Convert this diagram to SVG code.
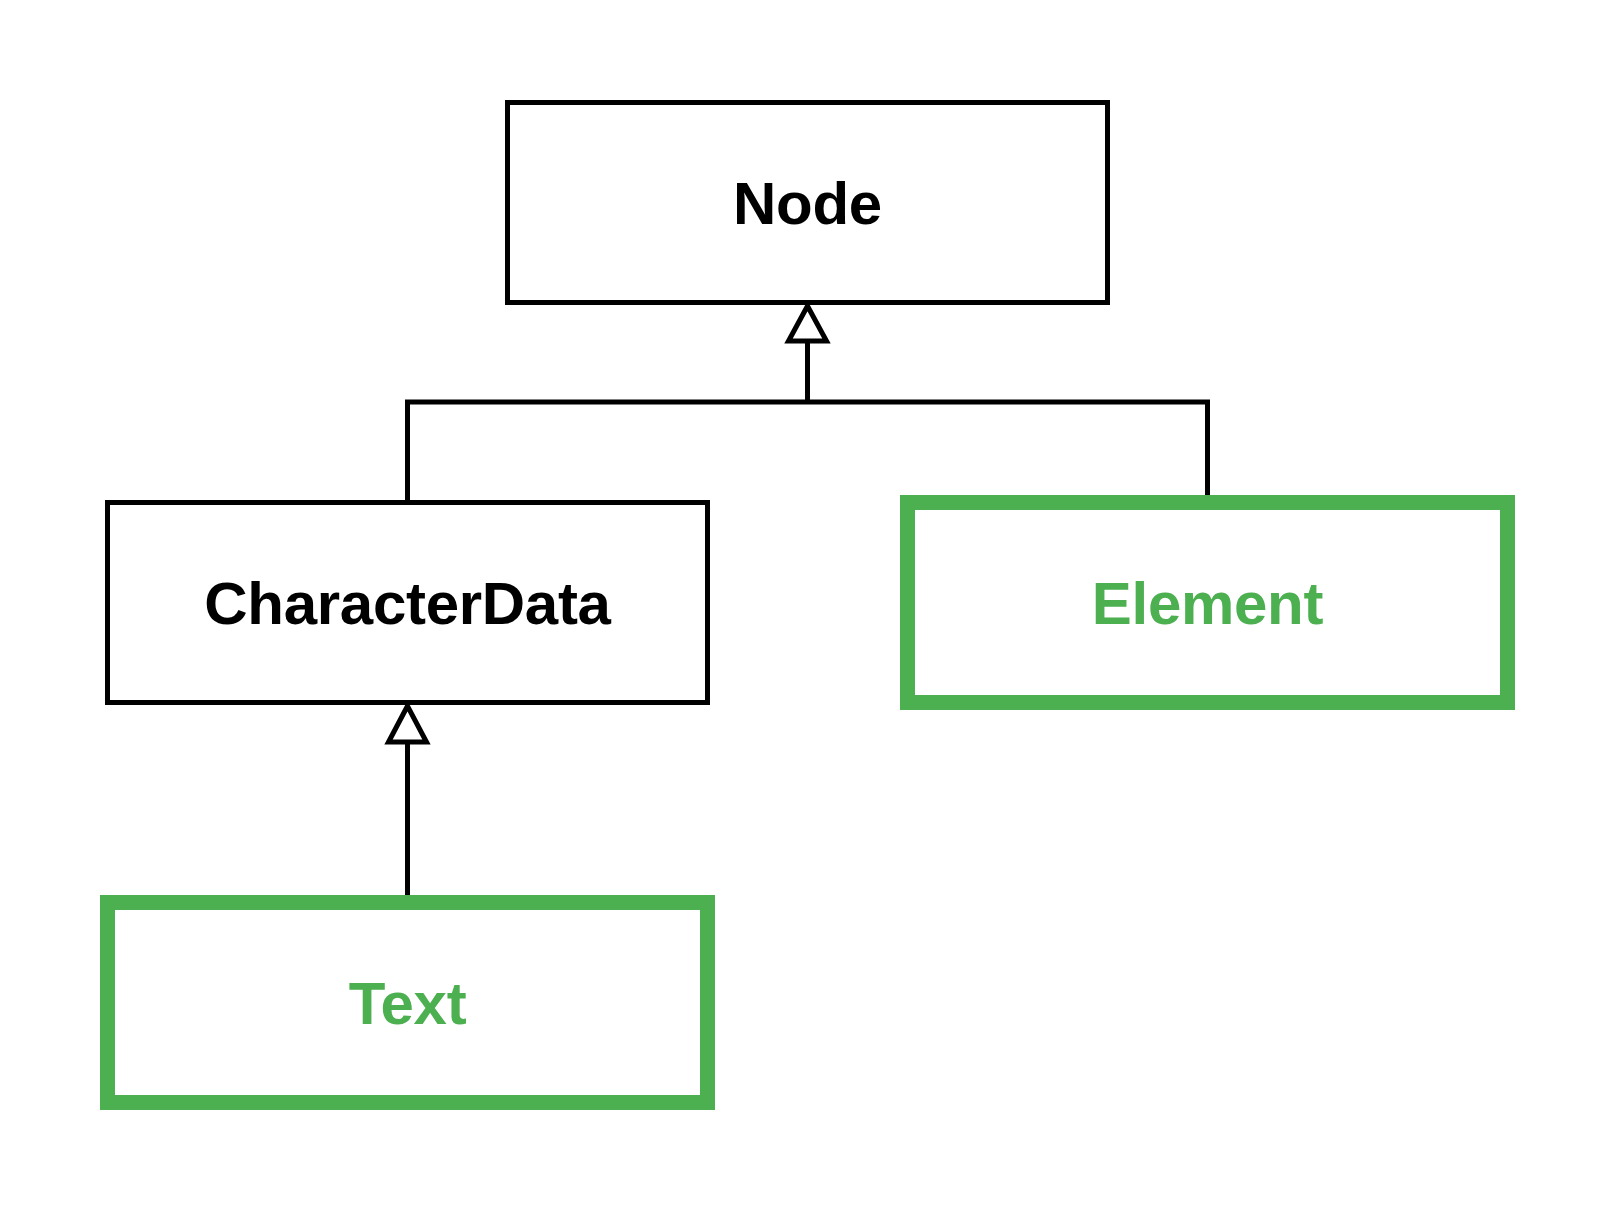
<svg xmlns="http://www.w3.org/2000/svg" width="1615" height="1210" viewBox="0 0 1615 1210">
<style>
.box{fill:#ffffff;stroke:#000000;stroke-width:5}
.gbox{fill:#ffffff;stroke:#4CAF50;stroke-width:15}
.lbl{font-family:"Liberation Sans",Arial,Helvetica,sans-serif;font-weight:bold;font-size:60px;letter-spacing:-0.3px;text-anchor:middle;fill:#000000}
.glbl{fill:#4CAF50}
.edge{fill:none;stroke:#000000;stroke-width:5}
.tri{fill:#ffffff;stroke:#000000;stroke-width:5;stroke-linejoin:miter}
</style>
<rect width="1615" height="1210" fill="#ffffff"/>
<g id="connectors">
<path class="edge" d="M407.5 500 V402 H1207.5 V495"/>
<path class="edge" d="M807.5 402 V341"/>
<polygon class="tri" points="807.5,306 788.5,341 826.5,341"/>
<path class="edge" d="M407.5 895 V742"/>
<polygon class="tri" points="407.5,706 388.5,742 426.5,742"/>
</g>
<g id="node-Node">
<rect class="box" x="507.5" y="102.5" width="600" height="200"/>
<text class="lbl" x="807.5" y="224">Node</text>
</g>
<g id="node-CharacterData">
<rect class="box" x="107.5" y="502.5" width="600" height="200"/>
<text class="lbl" x="407.5" y="624">CharacterData</text>
</g>
<g id="node-Element">
<rect class="gbox" x="907.5" y="502.5" width="600" height="200"/>
<text class="lbl glbl" x="1207.5" y="624">Element</text>
</g>
<g id="node-Text">
<rect class="gbox" x="107.5" y="902.5" width="600" height="200"/>
<text class="lbl glbl" x="407.5" y="1024">Text</text>
</g>
</svg>
